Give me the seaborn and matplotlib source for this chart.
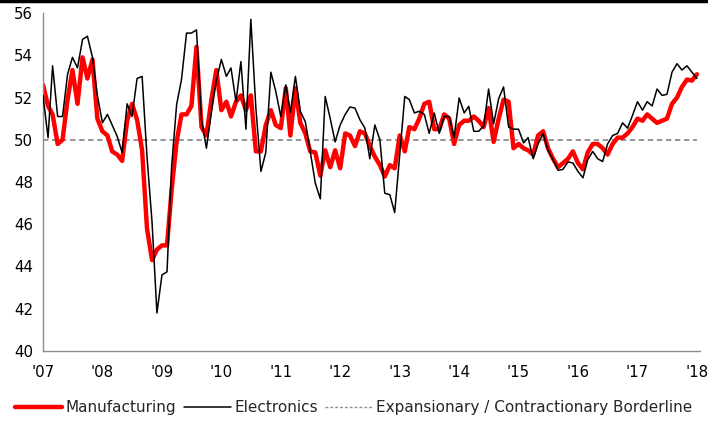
import numpy as np
import pandas as pd
import matplotlib
matplotlib.use("Agg")
import matplotlib.pyplot as plt
import matplotlib.dates as mdates
from matplotlib.lines import Line2D
import seaborn as sns

manufacturing = [
    52.6, 51.6, 51.2, 49.8, 50.0, 51.9, 53.3, 51.7, 53.9, 52.9, 53.8, 51.0,
    50.4, 50.2, 49.45, 49.3, 49.0, 50.9, 51.7, 50.95, 49.5, 45.8, 44.3, 44.8,
    45.0, 45.0, 47.6, 49.9, 51.2, 51.2, 51.6, 54.4, 50.6, 50.2, 51.9, 53.3,
    51.4, 51.8, 51.1, 51.8, 52.1, 51.4, 52.1, 49.45, 49.45, 50.7, 51.4, 50.7,
    50.55, 52.45, 50.2, 52.45, 50.8, 50.3, 49.45, 49.4, 48.3, 49.5, 48.7, 49.5,
    48.65, 50.3, 50.2, 49.7, 50.4, 50.3, 49.7, 49.2, 48.8, 48.26, 48.8, 48.65,
    50.2, 49.45, 50.6, 50.5, 51.0, 51.7, 51.8, 50.5, 50.5, 51.2, 51.0, 49.8,
    50.7, 50.9, 50.9, 51.1, 50.9, 50.6, 51.5, 49.9, 51.0, 51.9, 51.8, 49.6,
    49.8, 49.6, 49.5, 49.3, 50.2, 50.4, 49.6, 49.1, 48.7, 48.9, 49.1, 49.45,
    48.9, 48.6, 49.4, 49.8, 49.8, 49.6, 49.3, 49.8, 50.1, 50.1, 50.3, 50.6,
    51.0, 50.9, 51.2, 51.0, 50.8, 50.9, 51.0, 51.7, 52.0, 52.5, 52.85, 52.8,
    53.1,
]

electronics = [
    52.1, 50.1, 53.5, 51.1, 51.1, 53.1, 53.9, 53.4, 54.75, 54.9, 53.9, 52.1,
    50.8, 51.2, 50.7, 50.16, 49.4, 51.7, 51.1, 52.9, 53.0, 49.2, 46.1, 41.8,
    43.6, 43.75, 48.7, 51.66, 52.85, 55.05, 55.05, 55.2, 50.95, 49.6, 51.3, 52.8,
    53.8, 53.0, 53.4, 51.8, 53.7, 50.5, 55.7, 51.5, 48.5, 49.4, 53.2, 52.3,
    51.1, 52.6, 51.3, 53.0, 51.35, 50.85, 49.45, 47.95, 47.2, 52.05, 51.0, 49.9,
    50.7, 51.2, 51.55, 51.5, 50.95, 50.55, 49.1, 50.7, 50.0, 47.47, 47.4, 46.55,
    49.3, 52.05, 51.9, 51.27, 51.35, 51.2, 50.3, 51.27, 50.3, 51.1, 51.1, 50.1,
    51.98, 51.27, 51.58, 50.4, 50.4, 50.65, 52.4, 50.75, 51.95, 52.5, 50.6, 50.5,
    50.5, 49.85, 50.1, 49.1, 49.8, 50.3, 49.5, 49.05, 48.55, 48.6, 48.95, 48.9,
    48.5, 48.2, 49.05, 49.45, 49.1, 48.97, 49.8, 50.2, 50.3, 50.8, 50.55, 51.15,
    51.8, 51.4, 51.8, 51.6, 52.4, 52.1, 52.15, 53.2, 53.6, 53.3, 53.5, 53.2,
    52.9,
]

borderline = 50
year_labels = ["'07", "'08", "'09", "'10", "'11", "'12", "'13", "'14", "'15", "'16", "'17", "'18"]
y_ticks = [40, 42, 44, 46, 48, 50, 52, 54, 56]
series_names = ["Manufacturing", "Electronics", "Expansionary / Contractionary Borderline"]

dates = pd.date_range("2007-01-01", periods=len(manufacturing), freq="MS")
df = pd.DataFrame({"date": dates, "Manufacturing": manufacturing, "Electronics": electronics})

sns.set_theme(style="white")
plt.rcParams["font.family"] = ["DejaVu Sans"]

fig = plt.figure(figsize=(7.08, 4.21), dpi=100)
ax = fig.add_axes([43 / 708, 1 - 351 / 421, (700 - 43) / 708, (351 - 13) / 421])

ax.hlines(borderline, dates[0], dates[-1], colors="#8c8c8c", linestyles=(0, (3, 2)), linewidth=1.3, zorder=1)
sns.lineplot(data=df, x="date", y="Manufacturing", color="#ff0000", linewidth=3.2, ax=ax, zorder=2)
sns.lineplot(data=df, x="date", y="Electronics", color="black", linewidth=1.1, ax=ax, zorder=3)

ax.set_xlim(dates[0], pd.Timestamp("2018-01-20"))
ax.set_ylim(40, 56)
ax.set_yticks(y_ticks)
ax.set_yticklabels([str(v) for v in y_ticks])
year_ticks = pd.date_range("2007-01-01", periods=len(year_labels), freq="YS")
ax.set_xticks(year_ticks)
ax.set_xticklabels(year_labels)
ax.set_xlabel("")
ax.set_ylabel("")

for s in ["top", "right"]:
    ax.spines[s].set_visible(False)
for s in ["left", "bottom"]:
    ax.spines[s].set_color("#8c8c8c")
    ax.spines[s].set_linewidth(1.0)
ax.tick_params(axis="both", which="major", direction="out", length=4, width=1.0,
               color="#8c8c8c", labelsize=10.8, labelcolor="black", pad=6)
ax.tick_params(axis="y", pad=3)
ax.grid(False)

handles = [
    Line2D([], [], color="#ff0000", linewidth=3.2),
    Line2D([], [], color="black", linewidth=1.1),
    Line2D([], [], color="#8c8c8c", linewidth=1.0, linestyle=(0, (2, 1.5))),
]
fig.legend(handles, series_names, loc="lower left", bbox_to_anchor=(0.006, -0.012),
           ncol=3, frameon=False, fontsize=11.0, handlelength=3.1, handletextpad=0.2,
           columnspacing=0.5, borderaxespad=0.3)

fig.add_artist(Line2D([0, 1], [0.997, 0.997], transform=fig.transFigure, color="black", linewidth=2.5))

fig.savefig("out.png", dpi=100)
